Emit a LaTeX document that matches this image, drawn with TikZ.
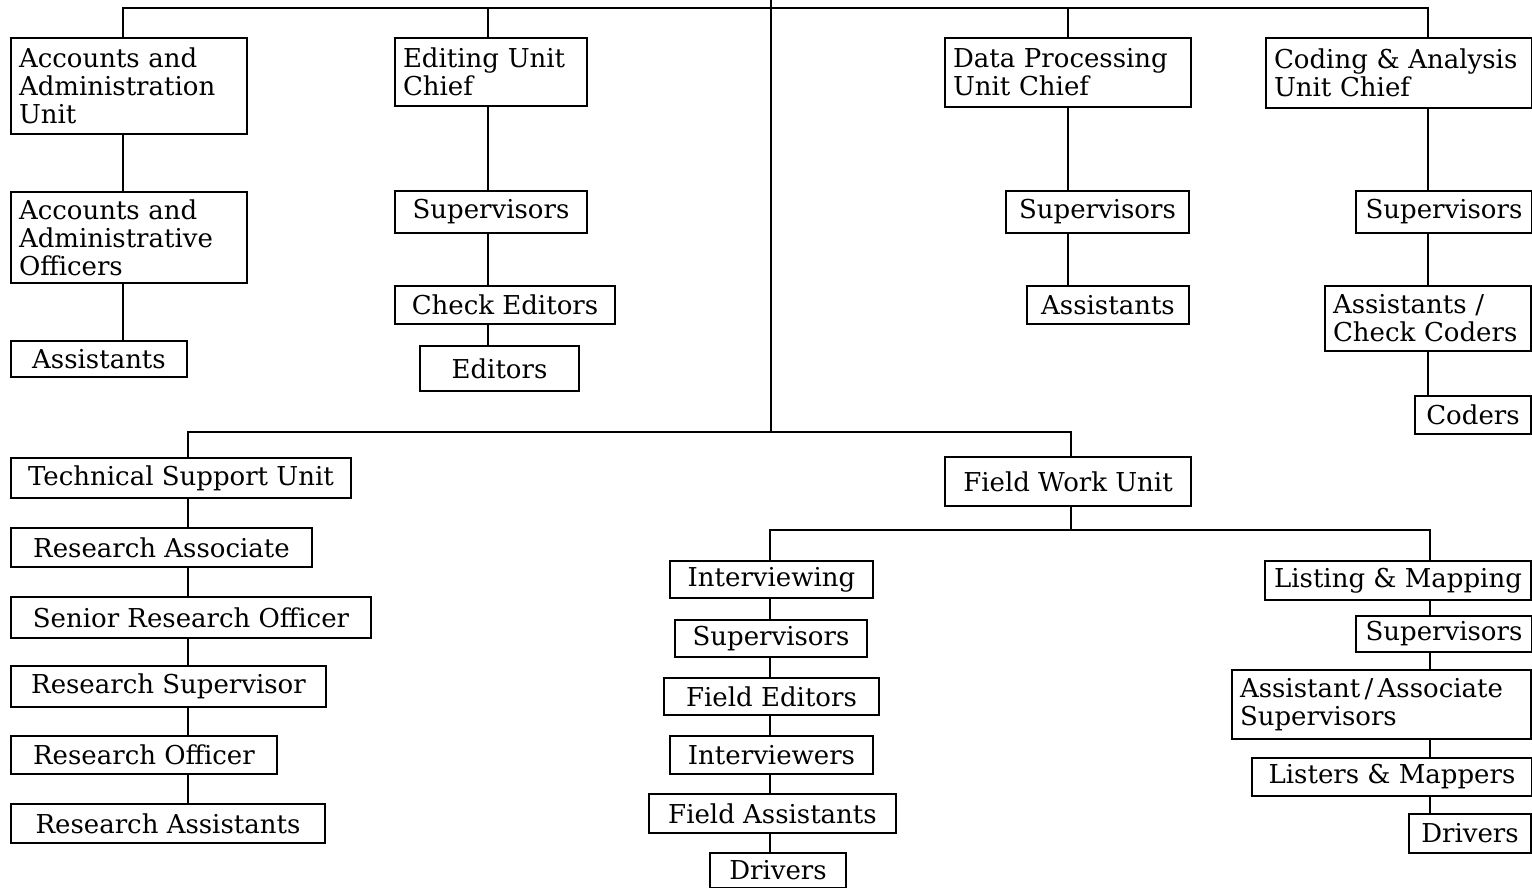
\documentclass[tikz,border=0pt]{standalone}
\usepackage{fontspec}
\usepackage{tikz}
\setmainfont{DejaVu Serif}

\tikzset{
  post/.style={draw, rectangle, anchor=north west, line width=1pt,
    inner xsep=4pt, inner ysep=1pt, font=\fontsize{13}{14}\selectfont},
  posttwo/.style={post, align=left}
}

\begin{document}
\begin{tikzpicture}[x=0.5pt, y=-0.5pt, line width=1.1pt]
			\useasboundingbox (0,0) rectangle (1532,888);
			%%%%%%%%%%%%%%%%%%%%%%%%%%%%%%%%
			\coordinate (top) at (771,0);
			\coordinate (bar) at (771,8);
			\coordinate (mid) at (771,432);
			\coordinate (fbar) at (1071,530);
			\coordinate (spA) at (123,0);
			\coordinate (spB) at (488,0);
			\coordinate (spC) at (1068,0);
			\coordinate (spD) at (1428,0);
			\coordinate (spE) at (188,0);
			\coordinate (spF) at (1071,0);
			\coordinate (spG) at (770,0);
			\coordinate (spH) at (1430,0);
			%%%%%%%%%%%%%%%%%%%%%%%%%%%%%%%%
			\node[posttwo, text width=110pt, minimum height=48pt] (aau) at (10,37){Accounts and\\Administration\\Unit};
			\node[posttwo, text width=110pt, minimum height=45.5pt] (aao) at (10,191){Accounts and\\Administrative\\Officers};
			\node[post, minimum width=88pt, minimum height=18pt] (aaa) at (10,340){Assistants};
			%%%%%%%%%%%%%%%%%%%%%%%%%%%%%%%%
			\node[posttwo, text width=88pt, minimum height=34pt] (euc) at (394,37){Editing Unit\\Chief};
			\node[post, minimum width=96pt, minimum height=21pt] (esup) at (394,190){Supervisors};
			\node[post, minimum width=110pt, minimum height=19pt] (eche) at (394,285){Check Editors};
			\node[post, minimum width=79.5pt, minimum height=22.5pt] (eedi) at (419,345){Editors};
			%%%%%%%%%%%%%%%%%%%%%%%%%%%%%%%%
			\node[posttwo, text width=115pt, minimum height=34.5pt] (dpu) at (944,37){Data Processing\\Unit Chief};
			\node[post, minimum width=91.5pt, minimum height=21pt] (dsup) at (1005,190){Supervisors};
			\node[post, minimum width=81pt, minimum height=19pt] (dass) at (1026,285){Assistants};
			%%%%%%%%%%%%%%%%%%%%%%%%%%%%%%%%
			\node[posttwo, text width=125pt, minimum height=35pt] (cau) at (1265,37){Coding \& Analysis\\Unit Chief};
			\node[post, minimum width=88pt, minimum height=21pt] (csup) at (1355,190){Supervisors};
			\node[posttwo, text width=95pt, minimum height=32.5pt] (cass) at (1324,285){Assistants /\\Check Coders};
			\node[post, minimum width=58pt, minimum height=19pt] (ccod) at (1414,395){Coders};
			%%%%%%%%%%%%%%%%%%%%%%%%%%%%%%%%
			\node[post, minimum width=170pt, minimum height=20pt] (tsu) at (10,457){Technical Support Unit};
			\node[post, minimum width=150.5pt, minimum height=19.5pt] (rass) at (10,527){Research Associate};
			\node[post, minimum width=180pt, minimum height=20.5pt] (sro) at (10,596){Senior Research Officer};
			\node[post, minimum width=157.5pt, minimum height=20.5pt] (rsup) at (10,665){Research Supervisor};
			\node[post, minimum width=133pt, minimum height=19pt] (roff) at (10,735){Research Officer};
			\node[post, minimum width=157pt, minimum height=19.5pt] (rast) at (10,803){Research Assistants};
			%%%%%%%%%%%%%%%%%%%%%%%%%%%%%%%%
			\node[post, minimum width=123pt, minimum height=24.5pt] (fwu) at (944,456){Field Work Unit};
			\node[post, minimum width=101.5pt, minimum height=18.5pt] (fint) at (669,560){Interviewing};
			\node[post, minimum width=96pt, minimum height=18.5pt] (fsup) at (674,619){Supervisors};
			\node[post, minimum width=107.5pt, minimum height=18.5pt] (fedi) at (663,677){Field Editors};
			\node[post, minimum width=101.5pt, minimum height=19pt] (fivw) at (669,735){Interviewers};
			\node[post, minimum width=123.5pt, minimum height=19.5pt] (fast) at (648,793){Field Assistants};
			\node[post, minimum width=68pt, minimum height=17.5pt] (fdrv) at (709,852){Drivers};
			%%%%%%%%%%%%%%%%%%%%%%%%%%%%%%%%
			\node[post, minimum width=133pt, minimum height=19.5pt] (lmap) at (1264,560){Listing \& Mapping};
			\node[post, minimum width=88pt, minimum height=18pt] (lsup) at (1355,615){Supervisors};
			\node[posttwo, text width=141.5pt, minimum height=34.5pt] (lass) at (1231,669){Assistant\,/\,Associate\\Supervisors};
			\node[post, minimum width=140pt, minimum height=19pt] (llis) at (1251,757){Listers \& Mappers};
			\node[post, minimum width=61pt, minimum height=19.5pt] (ldrv) at (1408,813){Drivers};
			%%%%%%%%%%%%%%%%%%%%%%%%%%%%%%%%
			\draw (aau.north -| spA)--(spA |- bar)--(spD |- bar)--(cau.north -| spD);
			\draw (euc.north -| spB)--(spB |- bar);
			\draw (dpu.north -| spC)--(spC |- bar);
			\draw (top)--(mid);
			\draw (tsu.north -| spE) |- (mid) -| (fwu.north -| spF);
			\draw (fwu.south -| spF)--(fbar);
			\draw (fint.north -| spG) |- (fbar) -| (lmap.north -| spH);
			%%%%%%%%%%%%%%%%%%%%%%%%%%%%%
			\draw (aau.south -| spA)--(aao.north -| spA) (aao.south -| spA)--(aaa.north -| spA);
			\draw (euc.south -| spB)--(esup.north -| spB) (esup.south -| spB)--(eche.north -| spB)
				(eche.south -| spB)--(eedi.north -| spB);
			\draw (dpu.south -| spC)--(dsup.north -| spC) (dsup.south -| spC)--(dass.north -| spC);
			\draw (cau.south -| spD)--(csup.north -| spD) (csup.south -| spD)--(cass.north -| spD)
				(cass.south -| spD)--(ccod.north -| spD);
			\draw (tsu.south -| spE)--(rass.north -| spE) (rass.south -| spE)--(sro.north -| spE)
				(sro.south -| spE)--(rsup.north -| spE) (rsup.south -| spE)--(roff.north -| spE)
				(roff.south -| spE)--(rast.north -| spE);
			\draw (fint.south -| spG)--(fsup.north -| spG) (fsup.south -| spG)--(fedi.north -| spG)
				(fedi.south -| spG)--(fivw.north -| spG) (fivw.south -| spG)--(fast.north -| spG)
				(fast.south -| spG)--(fdrv.north -| spG);
			\draw (lmap.south -| spH)--(lsup.north -| spH) (lsup.south -| spH)--(lass.north -| spH)
				(lass.south -| spH)--(llis.north -| spH) (llis.south -| spH)--(ldrv.north -| spH);
		\end{tikzpicture}
\end{document}
